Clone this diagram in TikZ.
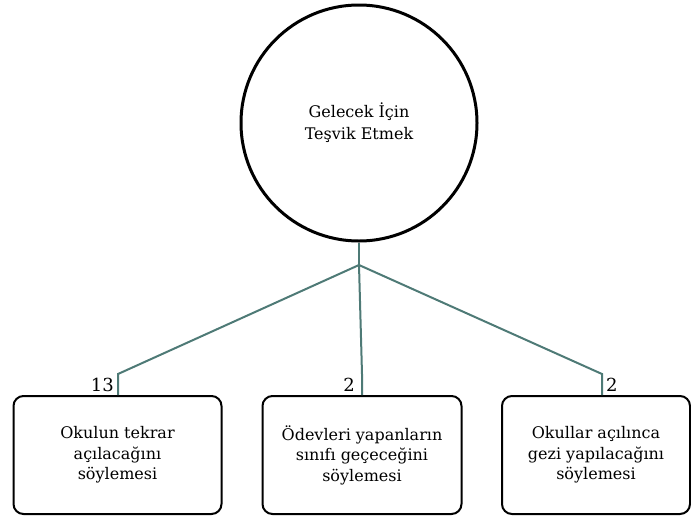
\documentclass[tikz,border=0pt]{standalone}
\usepackage{fontspec}
\setmainfont{DejaVu Serif}
\begin{document}
\begin{tikzpicture}[x=1pt,y=-1pt,
  conn/.style={draw=linkcol,line width=2pt},
  leaf/.style={draw=black,line width=2pt,rounded corners=10pt,align=center,
    font=\fontsize{16}{20.5}\selectfont,inner sep=0pt},
  cnt/.style={font=\fontsize{18}{18}\selectfont,inner sep=0pt}]
\definecolor{linkcol}{HTML}{4E7A76}
\useasboundingbox (0,0) rectangle (691,517);
\node[draw=black,line width=3pt,circle,minimum size=236pt,align=center,
  font=\fontsize{16}{22}\selectfont] (c) at (359,123) {Gelecek İçin\\Teşvik Etmek};
\node[leaf,minimum width=208pt,minimum height=118pt] (b1) at (117.5,455) {Okulun tekrar\\açılacağını\\söylemesi};
\node[leaf,minimum width=199pt,minimum height=118pt] (b2) at (362,455) {Ödevleri yapanların\\sınıfı geçeceğini\\söylemesi};
\node[leaf,minimum width=188pt,minimum height=118pt] (b3) at (596,455) {Okullar açılınca\\gezi yapılacağını\\söylemesi};
\coordinate (j) at (359,265);
\coordinate (k1) at (118,374);
\coordinate (k2) at (362,374);
\coordinate (k3) at (602,374);
\draw[conn] (c.south) -- (j);
\draw[conn] (j) -- (k1) -- (k1 |- b1.north);
\draw[conn] (j) -- (k2) -- (k2 |- b2.north);
\draw[conn] (j) -- (k3) -- (k3 |- b3.north);
\node[cnt,anchor=south east] (n1) at (114,392) {13};
\node[cnt,anchor=south east] (n2) at (355,392) {2};
\node[cnt,anchor=south west] (n3) at (606,392) {2};
\end{tikzpicture}
\end{document}
